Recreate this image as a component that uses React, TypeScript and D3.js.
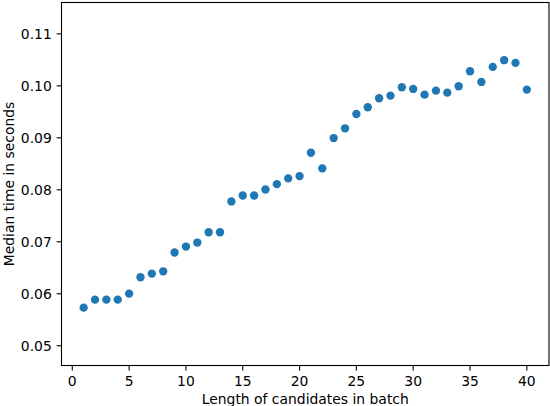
import React, { useEffect } from "react";
import * as d3 from "d3";

const batchLengths: number[] = Array.from({ length: 40 }, (_, i) => i + 1);
const medianTimes: number[] = [
  0.05733, 0.05887, 0.05887, 0.05887, 0.06002, 0.06317, 0.06388, 0.06432, 0.06793, 0.06908,
  0.06985, 0.07184, 0.07184, 0.07776, 0.07891, 0.07891, 0.08007, 0.08109, 0.08219, 0.08263,
  0.08712, 0.08412, 0.08995, 0.09183, 0.09458, 0.09588, 0.09761, 0.09811, 0.09973, 0.0994,
  0.0983, 0.09907, 0.09869, 0.09992, 0.10281, 0.10075, 0.10364, 0.10493, 0.10441, 0.09927,
];
const xTicks: number[] = [0, 5, 10, 15, 20, 25, 30, 35, 40];
const yTicks: number[] = [0.05, 0.06, 0.07, 0.08, 0.09, 0.1, 0.11];
const xLabel = "Length of candidates in batch";
const yLabel = "Median time in seconds";

const W = 550;
const H = 406;
const L = 61.5;
const R = 549;
const T = 2.5;
const B = 365.5;
const FONT = "'DejaVu Sans', sans-serif";
const FS = 13.9;

export default function App() {
  useEffect(() => {
    document.body.style.margin = "0";
  }, []);
  const x = d3.scaleLinear().domain([-0.95, 41.95]).range([L, R]);
  const y = d3.scaleLinear().domain([0.0462, 0.11603]).range([B, T]);
  const fmt = d3.format(".2f");
  return (
    <svg width={W} height={H} style={{ display: "block", background: "#fff" }}>
      <rect x={0} y={0} width={W} height={H} fill="#fff" />
      {batchLengths.map((d, i) => (
        <circle key={i} cx={x(d)} cy={y(medianTimes[i])} r={4.17} fill="#1f77b4" />
      ))}
      <rect x={L} y={T} width={R - L} height={B - T} fill="none" stroke="#000" strokeWidth={1.1} />
      {xTicks.map((t) => (
        <g key={"x" + t}>
          <line x1={x(t)} x2={x(t)} y1={B} y2={B + 4.9} stroke="#000" strokeWidth={1.1} />
          <text x={x(t)} y={B + 9.7} dy="0.76em" textAnchor="middle" fontFamily={FONT} fontSize={FS} fill="#000">
            {t}
          </text>
        </g>
      ))}
      {yTicks.map((t) => (
        <g key={"y" + t}>
          <line x1={L - 4.9} x2={L} y1={y(t)} y2={y(t)} stroke="#000" strokeWidth={1.1} />
          <text x={L - 9.7} y={y(t)} dy="0.35em" textAnchor="end" fontFamily={FONT} fontSize={FS} fill="#000">
            {fmt(t)}
          </text>
        </g>
      ))}
      <text x={(L + R) / 2} y={403.5} textAnchor="middle" fontFamily={FONT} fontSize={FS} fill="#000">
        {xLabel}
      </text>
      <text
        transform={`translate(${13.5},${(T + B) / 2}) rotate(-90)`}
        textAnchor="middle"
        fontFamily={FONT}
        fontSize={FS}
        fill="#000"
      >
        {yLabel}
      </text>
    </svg>
  );
}
